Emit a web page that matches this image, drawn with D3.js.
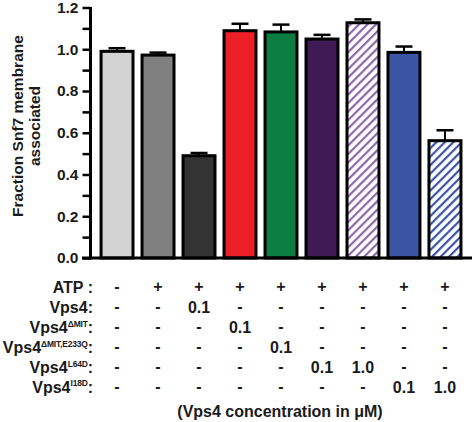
<!DOCTYPE html>
<html><head><meta charset="utf-8">
<script src="https://cdn.jsdelivr.net/npm/d3@7"></script>
<style>body{margin:0;background:#fff}svg{display:block}text{font-family:"Liberation Sans",Arial,sans-serif;font-weight:bold;fill:#1a1a1a}</style>
</head><body><svg id="c" width="472" height="422"></svg>
<script>
const conditions = ["ctrl","ATP","Vps4 0.1","dMIT 0.1","dMIT E233Q 0.1","L64D 0.1","L64D 1.0","I18D 0.1","I18D 1.0"];
const means = [0.99, 0.972, 0.49, 1.089, 1.083, 1.049, 1.127, 0.985, 0.562];
const errors = [0.015, 0.012, 0.013, 0.033, 0.035, 0.02, 0.016, 0.028, 0.05];
const fills = ["#d3d3d3","#808080","#333333","#ec1f26","#0b7d40","#401a54","hatchPurple","#3b55a5","hatchBlue"];
const yTicks = [0,0.2,0.4,0.6,0.8,1.0,1.2];
const rowLabels = ["ATP :","Vps4:","Vps4|ΔMIT|:","Vps4|ΔMIT,E233Q|:","Vps4|L64D|:","Vps4|I18D|:"];
const rowATP = ["-","+","+","+","+","+","+","+","+"];
const rowVps4 = ["-","-","0.1","-","-","-","-","-","-"];
const rowDMIT = ["-","-","-","0.1","-","-","-","-","-"];
const rowDMITE = ["-","-","-","-","0.1","-","-","-","-"];
const rowL64D = ["-","-","-","-","-","0.1","1.0","-","-"];
const rowI18D = ["-","-","-","-","-","-","-","0.1","1.0"];
const footer = "(Vps4 concentration in μM)";

const svg = d3.select("#c");
const defs = svg.append("defs");
function hatch(id, color){
  const p = defs.append("pattern").attr("id",id).attr("patternUnits","userSpaceOnUse")
    .attr("width",6).attr("height",6).attr("patternTransform","rotate(45)");
  p.append("rect").attr("width",6).attr("height",6).attr("fill","#fff");
  p.append("rect").attr("width",2.2).attr("height",6).attr("fill",color);
}
hatch("hatchPurple","#8e67a8");
hatch("hatchBlue","#3b55a5");

const x = d3.scaleBand().domain(conditions).range([99,463]).paddingInner(0.22).paddingOuter(0.05);
const y = d3.scaleLinear().domain([0,1.2]).range([258,7.5]);

// bars
svg.selectAll("rect.bar").data(conditions).join("rect").attr("class","bar")
  .attr("x",d=>x(d)).attr("width",x.bandwidth())
  .attr("y",(d,i)=>y(means[i])).attr("height",(d,i)=>y(0)-y(means[i]))
  .attr("fill",(d,i)=>fills[i].startsWith("hatch")?`url(#${fills[i]})`:fills[i])
  .attr("stroke","#000").attr("stroke-width",3);

// error bars
conditions.forEach((d,i)=>{
  const cx = x(d)+x.bandwidth()/2;
  svg.append("line").attr("x1",cx).attr("x2",cx).attr("y1",y(means[i])).attr("y2",y(means[i]+errors[i])).attr("stroke","#000").attr("stroke-width",2);
  svg.append("line").attr("x1",cx-8.5).attr("x2",cx+8.5).attr("y1",y(means[i]+errors[i])).attr("y2",y(means[i]+errors[i])).attr("stroke","#000").attr("stroke-width",2.5);
});

// y axis
const yAxis = d3.axisLeft(y).tickValues(d3.range(0,1.21,0.1)).tickSize(8).tickPadding(4)
  .tickFormat(v=>{const m=yTicks.find(t=>Math.abs(t-v)<1e-6);return m===undefined?"":d3.format(".1f")(m);});
const gy = svg.append("g").attr("transform","translate(90.5,0)").call(yAxis);
gy.select(".domain").attr("stroke","#000").attr("stroke-width",3).attr("d","M0,"+(y(1.2)-0.5)+"V"+(y(0)+1.5));
gy.selectAll(".tick line").attr("stroke","#000").attr("stroke-width",2.5);
gy.selectAll(".tick text").style("font-size","15.5px").style("font-weight","bold").attr("fill","#1a1a1a").attr("font-family",'"Liberation Sans",Arial,sans-serif');

// x axis line
svg.append("line").attr("x1",82).attr("x2",472).attr("y1",y(0)).attr("y2",y(0)).attr("stroke","#000").attr("stroke-width",3);

// y label
const yl = svg.append("text").attr("transform","translate(23,126) rotate(-90)").attr("text-anchor","middle").style("font-size","15.5px");
yl.append("tspan").attr("x",0).attr("dy",0).text("Fraction Snf7 membrane");
yl.append("tspan").attr("x",0).attr("dy",17).text("associated");

// table
const rows = [rowATP,rowVps4,rowDMIT,rowDMITE,rowL64D,rowI18D];
const rowY = [292.5,313,333,353,373,392.5];
rowLabels.forEach((lab,r)=>{
  const parts = lab.split("|");
  const t = svg.append("text").attr("x",93).attr("y",rowY[r]).attr("text-anchor","end").style("font-size","16px");
  if(parts.length===1){ t.text(parts[0]); }
  else {
    t.append("tspan").text(parts[0]);
    t.append("tspan").attr("dy",-6.5).style("font-size","8.5px").style("letter-spacing","-0.2px").text(parts[1]);
    t.append("tspan").attr("dy",6.5).text(parts[2]);
  }
  rows[r].forEach((v,i)=>{
    svg.append("text").attr("x",x(conditions[i])+x.bandwidth()/2).attr("y",rowY[r]-(v==="-"||v==="+"?1:0)).attr("text-anchor","middle")
      .style("font-size","16px").text(v);
  });
});
svg.append("text").attr("x",280).attr("y",417).attr("text-anchor","middle").style("font-size","16px").text(footer);
</script></body></html>
